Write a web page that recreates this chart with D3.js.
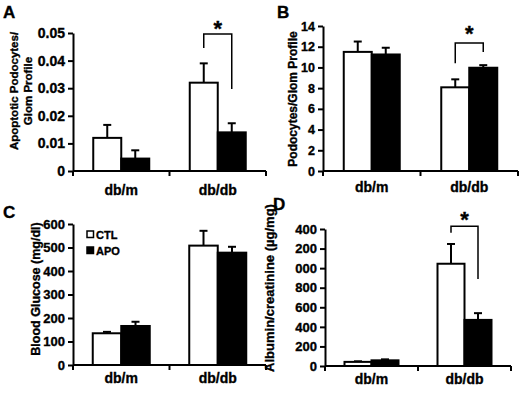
<!DOCTYPE html>
<html>
<head>
<meta charset="utf-8">
<script src="https://cdn.jsdelivr.net/npm/d3@7"></script>
<style>
  body { margin: 0; background: #fff; }
  svg { display: block; font-family: "Liberation Sans", Arial, sans-serif; font-weight: bold; }
  text { stroke: #000; stroke-width: 0.35px; }
</style>
</head>
<body>
<svg id="chart" width="520" height="394"></svg>
<script>
// categories
const groups = ["db/m", "db/db"];
const treatments = ["CTL", "APO"];

// A: apoptotic podocytes per glom profile  [group][treatment]
const apoMean = [[0.012, 0.0045], [0.032, 0.014]];
const apoErr = [[0.0047, 0.003], [0.007, 0.0033]];
const apoTicks = [0, 0.01, 0.02, 0.03, 0.04, 0.05];
const apoTickLabels = ["0", "0.01", "0.02", "0.03", "0.04", "0.05"];

// B: podocytes per glom profile
const podoMean = [[11.5, 11.25], [8.08, 9.97]];
const podoErr = [[1.0, 0.65], [0.77, 0.25]];
const podoTicks = [0, 2, 4, 6, 8, 10, 12, 14];
const podoTickLabels = ["0", "2", "4", "6", "8", "10", "12", "14"];

// C: blood glucose (mg/dl)
const glucMean = [[135, 166], [508, 478]];
const glucErr = [[6, 18], [63, 25]];
const glucTicks = [0, 100, 200, 300, 400, 500, 600];
const glucTickLabels = ["0", "100", "200", "300", "400", "500", "600"];

// D: albumin/creatinine (ug/mg) - leading "1" is cut off in the figure
const albMean = [[42, 58], [1045, 471]];
const albErr = [[6, 10], [202, 69]];
const albTicks = [0, 200, 400, 600, 800, 1000, 1200, 1400];
const albTickLabels = ["0", "200", "400", "600", "800", "000", "200", "400"];

// significance brackets: [top, left leg end, right leg end] in data units
const apoBracket = [0.0496, 0.0446, 0.0297];
const podoBracket = [12.35, 10.4, 11.5];
const albBracket = [1427, 1362, 890];

const panels = [
  { letter: "A", lx: 3, ly: 18, axisX: 73, xEnd: 266, y0: 171, yTop: 33,
    mean: apoMean, err: apoErr, ticks: apoTicks, tickLabels: apoTickLabels, tickFont: 14,
    ylabel: ["Apoptotic Podocytes/", "Glom Profile"], ylabelX: [18, 32], ylabelY: 91, ylabelFont: 11.5,
    catOffset: 24, barW: 28, bracket: apoBracket, starUp: 14 },
  { letter: "B", lx: 277, ly: 18, axisX: 323, xEnd: 518, y0: 171, yTop: 26,
    mean: podoMean, err: podoErr, ticks: podoTicks, tickLabels: podoTickLabels, tickFont: 12.5,
    ylabel: ["Podocytes/Glom Profile"], ylabelX: [297], ylabelY: 99, ylabelFont: 12,
    catOffset: 21, barW: 28, bracket: podoBracket, starUp: 18 },
  { letter: "C", lx: 3, ly: 218, axisX: 73, xEnd: 266, y0: 365, yTop: 224,
    mean: glucMean, err: glucErr, ticks: glucTicks, tickLabels: glucTickLabels, tickFont: 13,
    ylabel: ["Blood Glucose (mg/dl)"], ylabelX: [40], ylabelY: 289, ylabelFont: 12.5,
    catOffset: 18, barW: 28.5, legend: true },
  { letter: "D", lx: 273, ly: 210, axisX: 325, xEnd: 511, y0: 366, yTop: 229,
    mean: albMean, err: albErr, ticks: albTicks, tickLabels: albTickLabels, tickFont: 13,
    ylabel: ["Albumin/creatinine (\u00b5g/mg)"], ylabelX: [274], ylabelY: 288, ylabelFont: 13,
    catOffset: 18, barW: 27, bracket: albBracket, starUp: 15 }
];

const svg = d3.select("#chart");

function drawPanel(p) {
  const g = svg.append("g");
  const ticks = p.ticks;

  const y = d3.scaleLinear()
    .domain([0, ticks[ticks.length - 1]])
    .range([p.y0, p.yTop]);

  const x = d3.scaleBand()
    .domain(groups)
    .range([p.axisX, p.xEnd]);

  const xSub = d3.scaleBand()
    .domain(treatments)
    .range([-p.barW, p.barW]);

  const center = grp => x(grp) + x.bandwidth() / 2;

  // bars
  groups.forEach((grp, gi) => {
    treatments.forEach((t, ti) => {
      const v = p.mean[gi][ti];
      const e = p.err[gi][ti];
      const bx = center(grp) + xSub(t);
      const cx = bx + xSub.bandwidth() / 2;
      // error bar
      g.append("line")
        .attr("x1", cx).attr("x2", cx)
        .attr("y1", y(v)).attr("y2", y(v + e))
        .attr("stroke", "#000").attr("stroke-width", 2);
      g.append("line")
        .attr("x1", cx - 4).attr("x2", cx + 4)
        .attr("y1", y(v + e)).attr("y2", y(v + e))
        .attr("stroke", "#000").attr("stroke-width", 2);
      g.append("rect")
        .attr("x", bx)
        .attr("y", y(v))
        .attr("width", xSub.bandwidth())
        .attr("height", y(0) - y(v))
        .attr("fill", t === "CTL" ? "#fff" : "#000")
        .attr("stroke", "#000")
        .attr("stroke-width", 2);
    });
  });

  // y axis
  const yAxis = g.append("g")
    .attr("transform", `translate(${p.axisX},0)`)
    .call(d3.axisLeft(y)
      .tickValues(ticks)
      .tickFormat((d, i) => p.tickLabels[i])
      .tickSize(5)
      .tickSizeOuter(0)
      .tickPadding(3));
  yAxis.select(".domain").attr("stroke-width", 2);
  yAxis.selectAll(".tick line").attr("stroke-width", 2);
  yAxis.selectAll(".tick text")
    .attr("font-size", p.tickFont)
    .attr("font-family", "Liberation Sans, Arial, sans-serif")
    .attr("font-weight", "bold")
    .attr("fill", "#000");

  // x axis with ticks at band boundaries
  g.append("line")
    .attr("x1", p.axisX).attr("x2", p.xEnd)
    .attr("y1", p.y0).attr("y2", p.y0)
    .attr("stroke", "#000").attr("stroke-width", 2);
  const bounds = [x.range()[0], x(groups[1]), x.range()[1]];
  g.selectAll(".xtick").data(bounds).enter().append("line")
    .attr("x1", d => d).attr("x2", d => d)
    .attr("y1", p.y0).attr("y2", p.y0 + 5)
    .attr("stroke", "#000").attr("stroke-width", 2);

  g.selectAll(".cat").data(groups).enter().append("text")
    .attr("x", d => center(d))
    .attr("y", p.y0 + p.catOffset)
    .attr("text-anchor", "middle")
    .attr("font-size", 14)
    .text(d => d);

  // y label
  p.ylabel.forEach((line, i) => {
    g.append("text")
      .attr("transform", `translate(${p.ylabelX[i]},${p.ylabelY}) rotate(-90)`)
      .attr("text-anchor", "middle")
      .attr("font-size", p.ylabelFont)
      .text(line);
  });

  // panel letter
  g.append("text")
    .attr("x", p.lx).attr("y", p.ly)
    .attr("font-size", 17)
    .text(p.letter);

  // significance bracket on db/db
  if (p.bracket) {
    const cL = center("db/db") + xSub("CTL") + xSub.bandwidth() / 2;
    const cR = center("db/db") + xSub("APO") + xSub.bandwidth() / 2;
    const [top, leftEnd, rightEnd] = p.bracket;
    g.append("path")
      .attr("d", `M${cL},${y(leftEnd)}V${y(top)}H${cR}V${y(rightEnd)}`)
      .attr("fill", "none")
      .attr("stroke", "#000")
      .attr("stroke-width", 1.5);
    g.append("text")
      .attr("x", (cL + cR) / 2)
      .attr("y", y(top) - p.starUp + 16)
      .attr("text-anchor", "middle")
      .attr("font-size", 22)
      .text("*");
  }

  // legend
  if (p.legend) {
    const items = g.selectAll(".leg").data(treatments).enter().append("g")
      .attr("transform", (d, i) => `translate(87,${231 + i * 16})`);
    items.append("rect")
      .attr("width", 6.5).attr("height", 6.5)
      .attr("fill", d => d === "CTL" ? "#fff" : "#000")
      .attr("stroke", "#000").attr("stroke-width", 1.5);
    items.append("text")
      .attr("x", 9).attr("y", 7.5)
      .attr("font-size", 11)
      .text(d => d);
  }
}

panels.forEach(drawPanel);
</script>
</body>
</html>
